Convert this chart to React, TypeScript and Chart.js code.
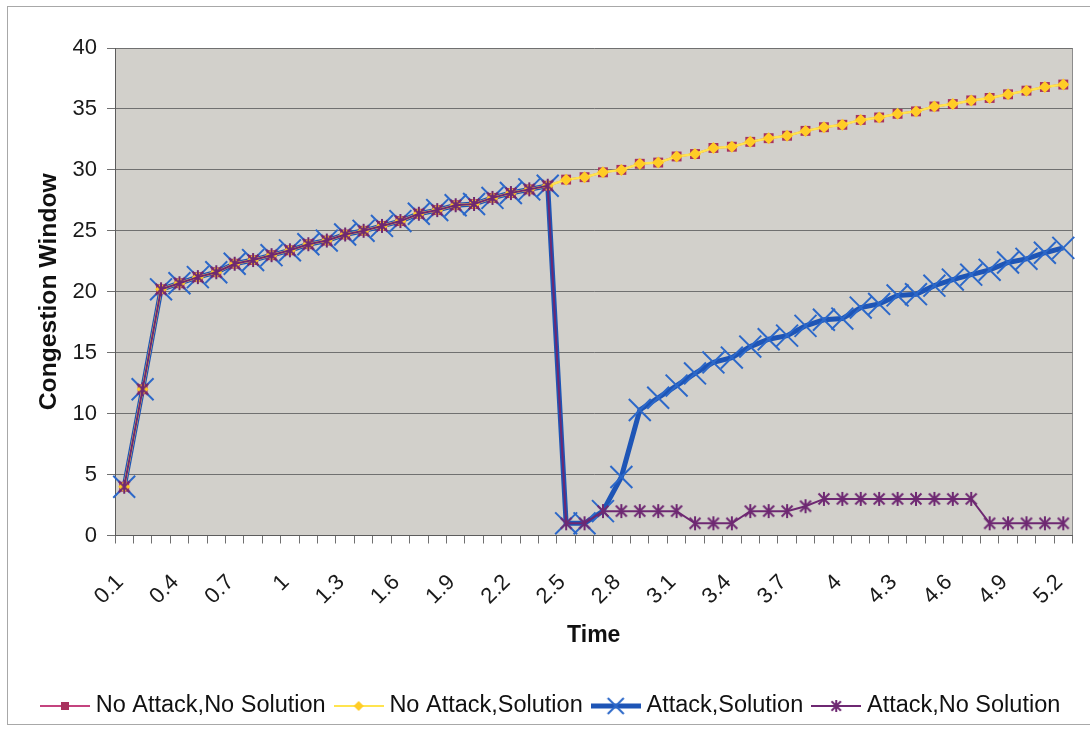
import React, { useEffect, useRef } from 'react';
import { Chart, registerables } from 'chart.js';

Chart.register(...registerables);

// Time axis categories (seconds)
const timeLabels = [
  '0.1', '0.2', '0.3', '0.4', '0.5', '0.6', '0.7', '0.8', '0.9', '1',
  '1.1', '1.2', '1.3', '1.4', '1.5', '1.6', '1.7', '1.8', '1.9', '2',
  '2.1', '2.2', '2.3', '2.4', '2.5', '2.6', '2.7', '2.8', '2.9', '3',
  '3.1', '3.2', '3.3', '3.4', '3.5', '3.6', '3.7', '3.8', '3.9', '4',
  '4.1', '4.2', '4.3', '4.4', '4.5', '4.6', '4.7', '4.8', '4.9', '5',
  '5.1', '5.2',
];

// Tick labels printed under the time axis
const shownTimeTicks = [
  '0.1', '0.4', '0.7', '1', '1.3', '1.6', '1.9', '2.2', '2.5', '2.8',
  '3.1', '3.4', '3.7', '4', '4.3', '4.6', '4.9', '5.2',
];

const noAttackNoSolution = [
  4, 12, 20.2, 20.7, 21.2, 21.6, 22.3, 22.6, 23.0, 23.4,
  23.9, 24.2, 24.7, 25.0, 25.4, 25.8, 26.4, 26.7, 27.1, 27.2,
  27.7, 28.1, 28.4, 28.7, 29.2, 29.4, 29.8, 30.0, 30.5, 30.6,
  31.1, 31.3, 31.8, 31.9, 32.3, 32.6, 32.8, 33.2, 33.5, 33.7,
  34.1, 34.3, 34.6, 34.8, 35.2, 35.4, 35.7, 35.9, 36.2, 36.5,
  36.8, 37.0,
];

const noAttackSolution = [
  4, 12, 20.2, 20.7, 21.2, 21.6, 22.3, 22.6, 23.0, 23.4,
  23.9, 24.2, 24.7, 25.0, 25.4, 25.8, 26.4, 26.7, 27.1, 27.2,
  27.7, 28.1, 28.4, 28.7, 29.2, 29.4, 29.8, 30.0, 30.5, 30.6,
  31.1, 31.3, 31.8, 31.9, 32.3, 32.6, 32.8, 33.2, 33.5, 33.7,
  34.1, 34.3, 34.6, 34.8, 35.2, 35.4, 35.7, 35.9, 36.2, 36.5,
  36.8, 37.0,
];

const attackSolution = [
  4, 12, 20.2, 20.7, 21.2, 21.6, 22.3, 22.6, 23.0, 23.4,
  23.9, 24.2, 24.7, 25.0, 25.4, 25.8, 26.4, 26.7, 27.1, 27.2,
  27.7, 28.1, 28.4, 28.7, 1, 1, 2, 4.8, 10.3, 11.3,
  12.3, 13.3, 14.2, 14.6, 15.5, 16.1, 16.4, 17.2, 17.7, 17.8,
  18.7, 19.0, 19.7, 19.8, 20.5, 21.0, 21.4, 21.8, 22.4, 22.7,
  23.2, 23.6,
];

const attackNoSolution = [
  4, 12, 20.2, 20.7, 21.2, 21.6, 22.3, 22.6, 23.0, 23.4,
  23.9, 24.2, 24.7, 25.0, 25.4, 25.8, 26.4, 26.7, 27.1, 27.2,
  27.7, 28.1, 28.4, 28.7, 1, 1, 2, 2, 2, 2,
  2, 1, 1, 1, 2, 2, 2, 2.4, 3, 3,
  3, 3, 3, 3, 3, 3, 3, 1, 1, 1,
  1, 1,
];

const FONT = 'Liberation Sans, Arial, Helvetica, sans-serif';

const RED_LINE = '#c4447f';
const RED_MARK = '#a8325e';
const YELLOW_LINE = '#ffe44f';
const YELLOW_MARK = '#ffcc26';
const BLUE_LINE = '#1e55b6';
const BLUE_MARK = '#2c68c9';
const PURPLE = '#6e2872';

function makeCanvas(w: number, h: number, draw: (ctx: CanvasRenderingContext2D) => void) {
  const c = document.createElement('canvas');
  c.width = w;
  c.height = h;
  const ctx = c.getContext('2d') as CanvasRenderingContext2D;
  draw(ctx);
  return c;
}

function drawAsterisk(ctx: CanvasRenderingContext2D, cx: number, cy: number, r: number, color: string) {
  const d = r * 0.78;
  ctx.save();
  ctx.strokeStyle = color;
  ctx.lineWidth = 2;
  ctx.lineCap = 'butt';
  ctx.beginPath();
  ctx.moveTo(cx - d, cy - d);
  ctx.lineTo(cx + d, cy + d);
  ctx.moveTo(cx + d, cy - d);
  ctx.lineTo(cx - d, cy + d);
  ctx.moveTo(cx, cy - r);
  ctx.lineTo(cx, cy + r);
  ctx.stroke();
  ctx.restore();
}

// Fills the plot area grey and draws its right edge
const plotBackground = {
  id: 'plotBackground',
  beforeDraw(chart: any) {
    const { ctx, chartArea } = chart;
    const { left, top, right, bottom } = chartArea;
    ctx.save();
    ctx.fillStyle = '#d2d0cb';
    ctx.fillRect(left, top, right - left, bottom - top);
    ctx.strokeStyle = '#8c8c8c';
    ctx.lineWidth = 1;
    ctx.beginPath();
    ctx.moveTo(Math.round(right) - 0.5, top);
    ctx.lineTo(Math.round(right) - 0.5, bottom);
    ctx.stroke();
    ctx.restore();
  },
};

export default function App() {
  const canvasRef = useRef<HTMLCanvasElement | null>(null);

  useEffect(() => {
    const canvas = canvasRef.current;
    if (!canvas) return;

    const asteriskPoint = makeCanvas(18, 18, (ctx) => drawAsterisk(ctx, 9, 9, 7, PURPLE));

    const W = 50;
    const H = 22;
    const legendIcons = [
      makeCanvas(W, H, (ctx) => {
        ctx.strokeStyle = RED_LINE;
        ctx.lineWidth = 2;
        ctx.beginPath();
        ctx.moveTo(0, H / 2);
        ctx.lineTo(W, H / 2);
        ctx.stroke();
        ctx.fillStyle = RED_MARK;
        ctx.fillRect(W / 2 - 4, H / 2 - 4, 8, 8);
      }),
      makeCanvas(W, H, (ctx) => {
        ctx.strokeStyle = YELLOW_LINE;
        ctx.lineWidth = 2;
        ctx.beginPath();
        ctx.moveTo(0, H / 2);
        ctx.lineTo(W, H / 2);
        ctx.stroke();
        ctx.fillStyle = YELLOW_MARK;
        ctx.beginPath();
        ctx.moveTo(W / 2 - 5, H / 2);
        ctx.lineTo(W / 2, H / 2 - 5);
        ctx.lineTo(W / 2 + 5, H / 2);
        ctx.lineTo(W / 2, H / 2 + 5);
        ctx.closePath();
        ctx.fill();
      }),
      makeCanvas(W, H, (ctx) => {
        ctx.strokeStyle = BLUE_LINE;
        ctx.lineWidth = 5;
        ctx.beginPath();
        ctx.moveTo(0, H / 2);
        ctx.lineTo(W, H / 2);
        ctx.stroke();
        ctx.strokeStyle = BLUE_MARK;
        ctx.lineWidth = 2;
        ctx.beginPath();
        ctx.moveTo(W / 2 - 8, H / 2 - 8);
        ctx.lineTo(W / 2 + 8, H / 2 + 8);
        ctx.moveTo(W / 2 + 8, H / 2 - 8);
        ctx.lineTo(W / 2 - 8, H / 2 + 8);
        ctx.stroke();
      }),
      makeCanvas(W, H, (ctx) => {
        ctx.strokeStyle = PURPLE;
        ctx.lineWidth = 2;
        ctx.beginPath();
        ctx.moveTo(0, H / 2);
        ctx.lineTo(W, H / 2);
        ctx.stroke();
        drawAsterisk(ctx, W / 2, H / 2, 6, PURPLE);
      }),
    ];

    const tickFont = { family: FONT, size: 22 };

    const chart = new Chart(canvas, {
      type: 'line',
      data: {
        labels: timeLabels,
        datasets: [
          {
            label: 'No Attack,No Solution',
            data: noAttackNoSolution,
            borderColor: RED_LINE,
            borderWidth: 2,
            pointStyle: 'rect',
            pointRadius: 7,
            pointBackgroundColor: RED_MARK,
            pointBorderColor: RED_MARK,
            pointBorderWidth: 0,
            tension: 0,
            clip: false,
            order: 2,
          },
          {
            label: 'No Attack,Solution',
            data: noAttackSolution,
            borderColor: YELLOW_LINE,
            borderWidth: 2.5,
            pointStyle: 'rectRot',
            pointRadius: 6,
            pointBackgroundColor: YELLOW_MARK,
            pointBorderColor: YELLOW_MARK,
            pointBorderWidth: 0,
            tension: 0,
            clip: false,
            order: 1,
          },
          {
            label: 'Attack,Solution',
            data: attackSolution,
            borderColor: BLUE_LINE,
            borderWidth: 5,
            pointStyle: 'crossRot',
            pointRadius: 15.5,
            pointBackgroundColor: BLUE_MARK,
            pointBorderColor: BLUE_MARK,
            pointBorderWidth: 2,
            tension: 0,
            clip: false,
            order: 3,
          },
          {
            label: 'Attack,No Solution',
            data: attackNoSolution,
            borderColor: PURPLE,
            borderWidth: 2,
            pointStyle: asteriskPoint as any,
            pointRadius: 7,
            pointBackgroundColor: PURPLE,
            pointBorderColor: PURPLE,
            tension: 0,
            clip: false,
            order: 0,
          },
        ] as any,
      },
      options: {
        animation: false,
        responsive: false,
        maintainAspectRatio: false,
        events: [],
        layout: { padding: { left: 24, top: 41, right: 8, bottom: 1.25 } },
        plugins: {
          tooltip: { enabled: false },
          legend: {
            position: 'bottom',
            align: 'start',
            labels: {
              usePointStyle: true,
              pointStyleWidth: 38,
              padding: 14,
              color: '#111',
              font: { family: FONT, size: 23.5 },
              generateLabels: (c: any) =>
                c.data.datasets.map((ds: any, i: number) => ({
                  text: ds.label,
                  pointStyle: legendIcons[i],
                  fillStyle: 'rgba(0,0,0,0)',
                  strokeStyle: 'rgba(0,0,0,0)',
                  lineWidth: 0,
                  hidden: false,
                  datasetIndex: i,
                  fontColor: '#111',
                })),
            },
          },
        },
        scales: {
          x: {
            type: 'category',
            offset: true,
            grid: {
              offset: true,
              drawOnChartArea: false,
              drawTicks: true,
              tickLength: 8,
              color: '#707070',
              lineWidth: 1,
            },
            border: { display: true, color: '#5c5c5c', width: 1 },
            ticks: {
              autoSkip: false,
              minRotation: 45,
              maxRotation: 45,
              padding: 26,
              labelOffset: -4,
              color: '#1a1a1a',
              font: tickFont,
              callback: (_v: any, index: number) =>
                shownTimeTicks.includes(timeLabels[index]) ? timeLabels[index] : '',
            },
            title: {
              display: true,
              text: 'Time',
              color: '#111',
              font: { family: FONT, size: 23, weight: 'bold' },
              padding: { top: 0, bottom: 30.45 },
            },
            afterFit: (scale: any) => {
              scale.height = 144.75;
              scale.paddingLeft = 0;
              scale.paddingRight = 0;
            },
          },
          y: {
            min: 0,
            max: 40,
            grid: { color: '#707070', lineWidth: 1, tickLength: 8 },
            border: { display: true, color: '#5c5c5c', width: 1 },
            ticks: {
              stepSize: 5,
              padding: 10,
              color: '#1a1a1a',
              font: tickFont,
            },
            title: {
              display: true,
              text: 'Congestion Window',
              color: '#111',
              font: { family: FONT, size: 24.7, weight: 'bold', lineHeight: 1 },
              padding: { top: 5.15, bottom: 0 },
            },
            afterFit: (scale: any) => {
              scale.width = 83;
              scale.paddingTop = 0;
              scale.paddingBottom = 0;
            },
          },
        },
      } as any,
      plugins: [plotBackground],
    });

    return () => chart.destroy();
  }, []);

  return (
    <>
      <canvas
        ref={canvasRef}
        width={1082}
        height={722}
        style={{ position: 'absolute', left: 8, top: 7, width: 1082, height: 722 }}
      />
      <div
        style={{
          position: 'absolute',
          left: 7,
          top: 6,
          width: 1083,
          height: 719,
          border: '1px solid #a8a8a8',
          borderRight: 'none',
          boxSizing: 'border-box',
          pointerEvents: 'none',
        }}
      />
    </>
  );
}
